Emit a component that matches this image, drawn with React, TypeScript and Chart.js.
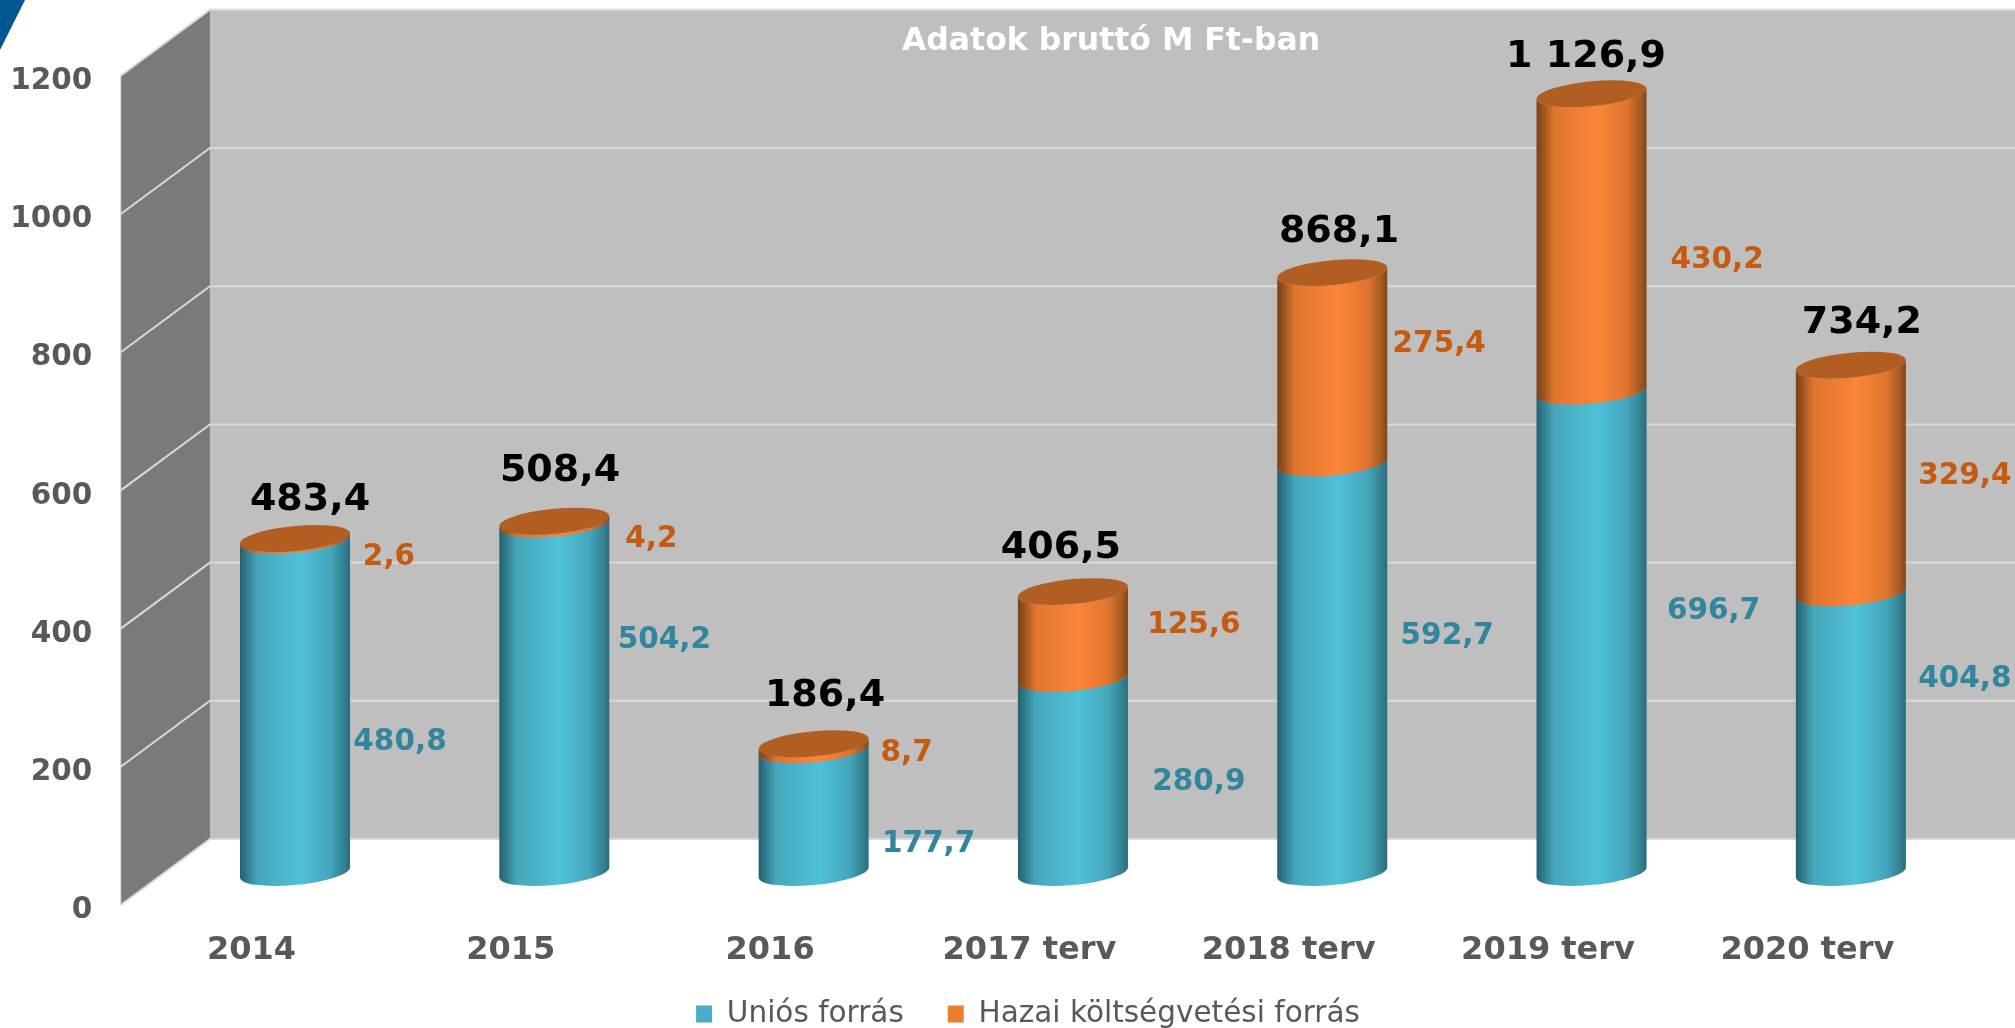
import React, { useEffect, useRef } from "react";
import { Chart, registerables } from "chart.js";

Chart.register(...registerables);

const categories = ["2014", "2015", "2016", "2017 terv", "2018 terv", "2019 terv", "2020 terv"];
const uniosForras = [480.8, 504.2, 177.7, 280.9, 592.7, 696.7, 404.8];
const hazaiForras = [2.6, 4.2, 8.7, 125.6, 275.4, 430.2, 329.4];
const totals = [483.4, 508.4, 186.4, 406.5, 868.1, 1126.9, 734.2];
const seriesNames = ["Uniós forrás", "Hazai költségvetési forrás"];
const chartTitle = "Adatok bruttó M Ft-ban";

// Hand-placed label nudges, as in the original slide (pixels from the segment's middle / the bar's top)
const uniosNudge = [[105, 35.5], [110, -57.5], [115, 33.5], [126, 6.5], [115, -31.5], [122, -20.5], [114, -53.5]];
const hazaiNudge = [[94, 17.5], [97, 16.5], [93, 6.5], [121, -9.5], [107, -23.5], [125.5, 17.5], [114, -2.5]];
const totalNudge = [[15, -38.5], [5.7, -50], [11.4, -48], [-12, -43], [6.8, -41], [-5.5, -37], [11, -42]];

const W = 2015;
const H = 1028;
const PLOT_LEFT = 165.35;
const PLOT_RIGHT = 1980.5;
const PLOT_TOP = 43.3;
const PLOT_BOTTOM = 872.5;
const DEPTH_X = 44.6;
const FRONT_DY = 32.5;
const BACK_DY = -33.5;
const FONT = '"DejaVu Sans"';
const LEGEND_PAD = 44;
const LEGEND_FONT = 29.5;
const TITLE_FONT = 31.5;

const fmt = (v: number) => {
  const [a, b] = v.toFixed(1).split(".");
  return a.replace(/\B(?=(\d{3})+$)/g, " ") + "," + b;
};

function gradient(ctx: CanvasRenderingContext2D, x0: number, x1: number, stops: string[]) {
  const g = ctx.createLinearGradient(x0, 0, x1, 0);
  const pos = [0, 0.05, 0.16, 0.55, 0.82, 0.95, 1];
  stops.forEach((c, i) => g.addColorStop(pos[i], c));
  return g;
}

const tealStops = ["#24606f", "#2d7787", "#46a6bb", "#4fc1d9", "#44a6bb", "#338091", "#2a6c7b"];
const orangeStops = ["#7a4117", "#93501e", "#e0752e", "#fb8538", "#e0752f", "#a05a22", "#7f4418"];
const CAP = "#b25e23";
const TEAL_CAP = "#3f9db2";

function cylinder(
  ctx: CanvasRenderingContext2D,
  cx: number,
  hw: number,
  yTop: number,
  yBottom: number,
  stops: string[],
  cap: string,
) {
  const tilt = 5;
  const minor = 12.5;
  const arc = (cy: number, start: number, end: number, ccw: boolean) => {
    ctx.save();
    ctx.transform(hw, -tilt, 0, minor, cx, cy);
    ctx.arc(0, 0, 1, start, end, ccw);
    ctx.restore();
  };
  ctx.beginPath();
  arc(yBottom, Math.PI, 0, true);
  arc(yTop, 0, Math.PI, false);
  ctx.closePath();
  ctx.fillStyle = gradient(ctx, cx - hw, cx + hw, stops);
  ctx.fill();

  ctx.beginPath();
  arc(yTop, 0, Math.PI * 2, false);
  ctx.closePath();
  ctx.fillStyle = cap;
  ctx.fill();
}

const wallsPlugin = {
  id: "walls",
  beforeDraw(chart: any) {
    const { ctx, scales } = chart;
    const y = scales.y;
    const xBack = PLOT_LEFT + DEPTH_X;
    const xFront = PLOT_LEFT - DEPTH_X;
    ctx.save();
    ctx.fillStyle = "#ffffff";
    ctx.fillRect(0, 0, W, H);

    // corner of the slide's blue decoration
    ctx.fillStyle = "#00568f";
    ctx.beginPath();
    ctx.moveTo(0, 0);
    ctx.lineTo(25, 0);
    ctx.lineTo(0, 50);
    ctx.closePath();
    ctx.fill();

    const top = y.getPixelForValue(1200);
    const bottom = y.getPixelForValue(0);
    // back wall
    ctx.fillStyle = "#bfbfbf";
    ctx.fillRect(xBack, top + BACK_DY, W - xBack, bottom - top);
    // side wall
    ctx.fillStyle = "#7a7a7a";
    ctx.beginPath();
    ctx.moveTo(xFront, top + FRONT_DY);
    ctx.lineTo(xBack, top + BACK_DY);
    ctx.lineTo(xBack, bottom + BACK_DY);
    ctx.lineTo(xFront, bottom + FRONT_DY);
    ctx.closePath();
    ctx.fill();

    // grid lines
    ctx.strokeStyle = "#d9d9d9";
    ctx.lineWidth = 2;
    y.ticks.forEach((t: any) => {
      const p = y.getPixelForValue(t.value);
      ctx.beginPath();
      ctx.moveTo(xFront, p + FRONT_DY);
      ctx.lineTo(xBack, p + BACK_DY);
      ctx.lineTo(W, p + BACK_DY);
      ctx.stroke();
    });
    ctx.lineWidth = 1;
    ctx.beginPath();
    ctx.moveTo(xFront, top + FRONT_DY);
    ctx.lineTo(xFront, bottom + FRONT_DY);
    ctx.stroke();
    ctx.restore();
  },
  afterLayout(chart: any) {
    const center = (box: any, cx: number) => {
      const w = box.right - box.left;
      box.left = cx - w / 2;
      box.right = cx + w / 2;
    };
    if (chart.titleBlock) center(chart.titleBlock, 1111);
    if (chart.legend) {
      center(chart.legend, 1028);
      const top = 1014 - LEGEND_FONT / 2 - LEGEND_PAD;
      chart.legend.top = top;
      chart.legend.bottom = H;
    }
    // tick labels are clipped to the axis box, which must reach down to them
    chart.scales.x.bottom = H;
  },
  beforeDatasetDraw() {
    return false;
  },
  beforeDatasetsDraw(chart: any) {
    const { ctx } = chart;
    ctx.save();
    const styles = [
      { stops: tealStops, cap: TEAL_CAP },
      { stops: orangeStops, cap: CAP },
    ];
    styles.forEach((s, i) => {
      chart.getDatasetMeta(i).data.forEach((el: any) => {
        cylinder(ctx, el.x, el.width / 2, el.y, el.base, s.stops, s.cap);
      });
    });
    ctx.restore();
  },
  afterDatasetsDraw(chart: any) {
    const { ctx } = chart;
    ctx.save();
    ctx.textAlign = "center";
    ctx.textBaseline = "middle";
    const lower = chart.getDatasetMeta(0).data;
    const upper = chart.getDatasetMeta(1).data;
    ctx.font = `bold 29.5px ${FONT}`;
    ctx.fillStyle = "#31859c";
    lower.forEach((el: any, i: number) => {
      ctx.fillText(fmt(uniosForras[i]), el.x + uniosNudge[i][0], (el.y + el.base) / 2 + uniosNudge[i][1]);
    });
    ctx.fillStyle = "#c55a11";
    upper.forEach((el: any, i: number) => {
      ctx.fillText(fmt(hazaiForras[i]), el.x + hazaiNudge[i][0], (el.y + el.base) / 2 + hazaiNudge[i][1]);
    });
    ctx.font = `bold 38px ${FONT}`;
    ctx.fillStyle = "#000000";
    upper.forEach((el: any, i: number) => {
      ctx.fillText(fmt(totals[i]), el.x + totalNudge[i][0], el.y + totalNudge[i][1]);
    });
    ctx.restore();
  },
};

export default function App() {
  const ref = useRef<HTMLCanvasElement>(null);
  useEffect(() => {
    const chart = new Chart(ref.current as HTMLCanvasElement, {
      type: "bar",
      data: {
        labels: categories,
        datasets: [
          { label: seriesNames[0], data: uniosForras, backgroundColor: "#4bacc6", borderWidth: 0, barThickness: 110 },
          { label: seriesNames[1], data: hazaiForras, backgroundColor: "#ed7d31", borderWidth: 0, barThickness: 110 },
        ],
      },
      options: {
        responsive: false,
        animation: false,
        devicePixelRatio: 1,
        layout: { padding: { left: 0, top: 0, bottom: 0, right: W - PLOT_RIGHT } },
        plugins: {
          tooltip: { enabled: false },
          title: {
            display: true,
            text: chartTitle,
            color: "#ffffff",
            font: { family: FONT, size: TITLE_FONT, weight: "bold" },
            padding: { top: 22.5, bottom: PLOT_TOP - 22.5 - TITLE_FONT * 1.2 },
          },
          legend: {
            display: true,
            position: "bottom",
            labels: {
              boxWidth: 16,
              boxHeight: 17,
              padding: LEGEND_PAD,
              color: "#595959",
              font: { family: FONT, size: LEGEND_FONT },
            },
          },
        },
        scales: {
          x: {
            stacked: true,
            grid: { display: false, drawTicks: false },
            border: { display: false },
            ticks: {
              color: "#595959",
              font: { family: FONT, size: 32, weight: "bold" },
              padding: 58.5,
              labelOffset: -43.5,
              autoSkip: false,
              maxRotation: 0,
            },
            afterFit(s: any) {
              s.height = H - PLOT_BOTTOM - (s.chart.legend ? s.chart.legend.height : 0);
              s.paddingLeft = 0;
              s.paddingRight = 0;
            },
          },
          y: {
            stacked: true,
            min: 0,
            max: 1200,
            grid: { display: false, drawTicks: false },
            border: { display: false },
            ticks: {
              stepSize: 200,
              color: "#595959",
              font: { family: FONT, size: 29.5, weight: "bold" },
              padding: 73,
              labelOffset: 38,
              callback: (v: any) => String(v),
            },
            afterFit(s: any) {
              s.width = PLOT_LEFT;
              s.paddingTop = 0;
              s.paddingBottom = 0;
            },
          },
        },
      },
      plugins: [wallsPlugin],
    } as any);
    return () => chart.destroy();
  }, []);
  return (
    <div style={{ position: "fixed", left: 0, top: 0, width: W, height: H, overflow: "hidden", background: "#fff" }}>
      <canvas ref={ref} width={W} height={H} style={{ display: "block" }} />
    </div>
  );
}
